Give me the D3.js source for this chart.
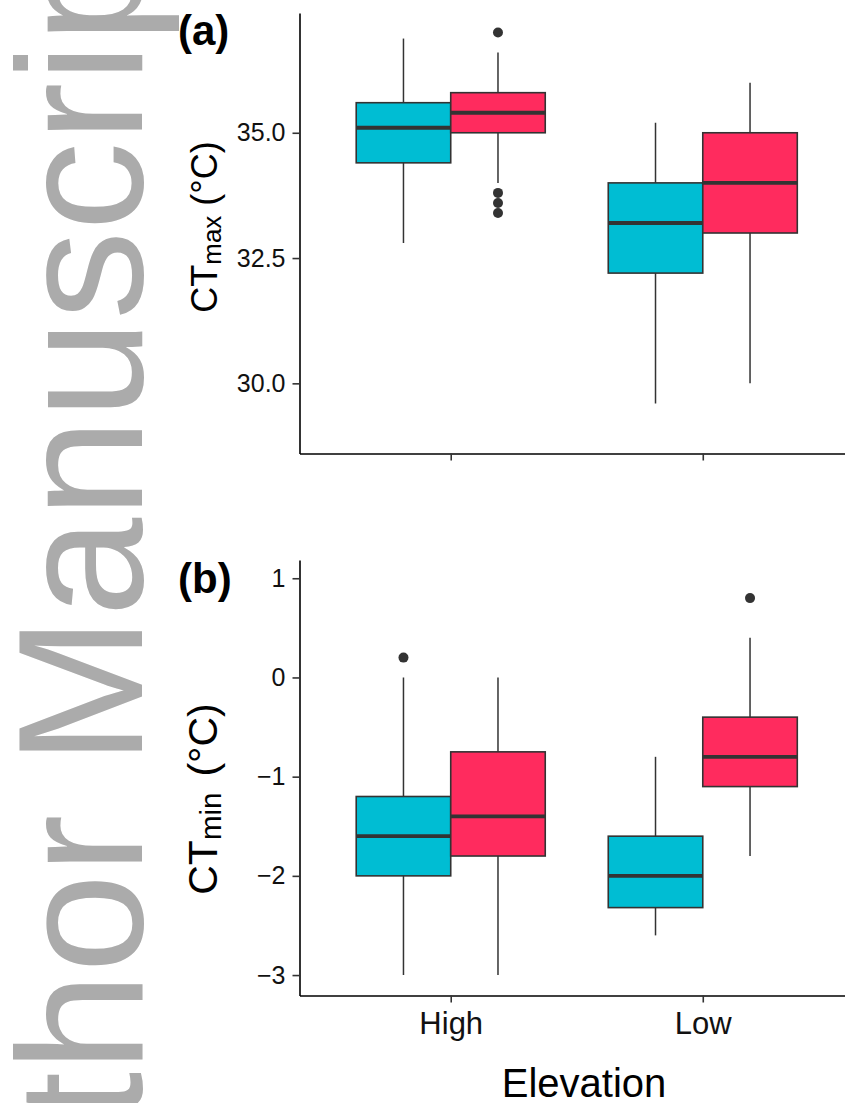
<!DOCTYPE html>
<html>
<head>
<meta charset="utf-8">
<script src="https://cdn.jsdelivr.net/npm/d3@7"></script>
<style>
  body { margin: 0; background: #fff; }
  svg { display: block; font-family: "Liberation Sans", Arial, Helvetica, sans-serif; }
</style>
</head>
<body>
<svg id="chart" width="845" height="1103"></svg>
<script>
// categories
const elevations = ["High", "Low"]
const groupColors = ["#00bdd3", "#ff2b5e"]

// five-number summaries per elevation: [whisker low, q1, median, q3, whisker high]
const ctmaxBlue = [[32.8, 34.4, 35.1, 35.6, 36.88], [29.6, 32.2, 33.2, 34.0, 35.2]]
const ctmaxRed  = [[34.0, 35.0, 35.4, 35.8, 36.6], [30.0, 33.0, 34.0, 35.0, 36.0]]
const ctmaxOutBlue = [[], []]
const ctmaxOutRed  = [[37.0, 33.8, 33.6, 33.4], []]

const ctminBlue = [[-3.0, -2.0, -1.6, -1.2, 0.0], [-2.6, -2.32, -2.0, -1.6, -0.8]]
const ctminRed  = [[-3.0, -1.8, -1.4, -0.75, 0.0], [-1.8, -1.1, -0.8, -0.4, 0.4]]
const ctminOutBlue = [[0.2], []]
const ctminOutRed  = [[], [0.8]]

const ctmaxTicks = [30, 32.5, 35]
const ctminTicks = [-3, -2, -1, 0, 1]

var svg = d3.select("#chart")

// watermark behind everything
svg.append("text")
    .attr("transform", "translate(142,1339) rotate(-90)")
    .attr("font-size", 178)
    .attr("fill", "#ababab")
    .text("Author Manuscript")

var x = d3.scalePoint().domain(elevations).range([299.5, 854]).padding(0.6)
var step = x.step()
var boxW = step * 0.375

function panel(conf) {
    var y = d3.scaleLinear().domain(conf.domain).range([conf.bottom, conf.top])
    var g = svg.append("g")

    var series = [
        { stats: conf.blue, out: conf.outBlue, color: groupColors[0], off: -boxW / 2 },
        { stats: conf.red, out: conf.outRed, color: groupColors[1], off: boxW / 2 }
    ]
    series.forEach(s => {
        var rows = elevations.map((e, i) => ({ e: e, v: s.stats[i], out: s.out[i] }))
        var sg = g.append("g")
        // whiskers
        sg.selectAll("line.wh")
            .data(rows)
            .join("line")
            .attr("x1", d => x(d.e) + s.off)
            .attr("x2", d => x(d.e) + s.off)
            .attr("y1", d => y(d.v[0]))
            .attr("y2", d => y(d.v[4]))
            .attr("stroke", "#333")
            .attr("stroke-width", 1.5)
        // boxes
        sg.selectAll("rect")
            .data(rows)
            .join("rect")
            .attr("x", d => x(d.e) + s.off - boxW / 2)
            .attr("width", boxW)
            .attr("y", d => y(d.v[3]))
            .attr("height", d => y(d.v[1]) - y(d.v[3]))
            .attr("fill", s.color)
            .attr("stroke", "#333")
            .attr("stroke-width", 1.6)
        // medians
        sg.selectAll("line.md")
            .data(rows)
            .join("line")
            .attr("x1", d => x(d.e) + s.off - boxW / 2)
            .attr("x2", d => x(d.e) + s.off + boxW / 2)
            .attr("y1", d => y(d.v[2]))
            .attr("y2", d => y(d.v[2]))
            .attr("stroke", "#333")
            .attr("stroke-width", 3.8)
        // outliers
        var pts = rows.flatMap(d => d.out.map(o => ({ e: d.e, o: o })))
        sg.selectAll("circle")
            .data(pts)
            .join("circle")
            .attr("cx", d => x(d.e) + s.off)
            .attr("cy", d => y(d.o))
            .attr("r", 5)
            .attr("fill", "#333")
    })

    var ya = g.append("g")
        .attr("transform", "translate(299.5,0)")
        .call(d3.axisLeft(y).tickValues(conf.ticks).tickFormat(conf.fmt).tickSize(7).tickSizeOuter(0).tickPadding(7))
    var xa = g.append("g")
        .attr("transform", `translate(0,${conf.bottom})`)
        .call(d3.axisBottom(x).tickSize(7).tickSizeOuter(0).tickPadding(9.5).tickFormat(conf.xlabels ? d => d : () => ""))
    ;[ya, xa].forEach(a => {
        a.select(".domain").attr("stroke", "#000").attr("stroke-width", 1.6)
        a.selectAll(".tick line").attr("stroke", "#333").attr("stroke-width", 1.6)
        a.selectAll(".tick text").attr("fill", "#111").attr("font-family", null)
    })
    ya.attr("font-size", 25)
    xa.attr("font-size", 31)

    // panel tag
    g.append("text")
        .attr("x", 178)
        .attr("y", conf.tagY)
        .attr("font-size", 42)
        .attr("font-weight", "bold")
        .text(conf.tag)

    // y title
    var t = g.append("text")
        .attr("transform", `translate(217,${conf.titleY}) rotate(-90)`)
        .attr("text-anchor", "middle")
        .attr("font-size", conf.titleSize)
        .attr("fill", "#000")
    t.append("tspan").text("CT")
    t.append("tspan").attr("font-size", conf.titleSize * 0.72).attr("dy", 4).text(conf.sub)
    t.append("tspan").attr("dy", -4).attr("dx", conf.gap).text("(°C)")
}

panel({
    domain: [28.6, 37.39], top: 13, bottom: 453.5,
    blue: ctmaxBlue, red: ctmaxRed, outBlue: ctmaxOutBlue, outRed: ctmaxOutRed,
    ticks: ctmaxTicks, fmt: d3.format(".1f"), xlabels: false,
    tag: "(a)", tagY: 45, sub: "max", titleY: 227, titleSize: 36, gap: 10
})
panel({
    domain: [-3.206, 1.184], top: 560, bottom: 995.5,
    blue: ctminBlue, red: ctminRed, outBlue: ctminOutBlue, outRed: ctminOutRed,
    ticks: ctminTicks, fmt: d3.format("d"), xlabels: true,
    tag: "(b)", tagY: 593, sub: "min", titleY: 799, titleSize: 41, gap: 16
})

svg.append("text")
    .attr("x", 584)
    .attr("y", 1097)
    .attr("text-anchor", "middle")
    .attr("font-size", 40)
    .text("Elevation")
</script>
</body>
</html>
